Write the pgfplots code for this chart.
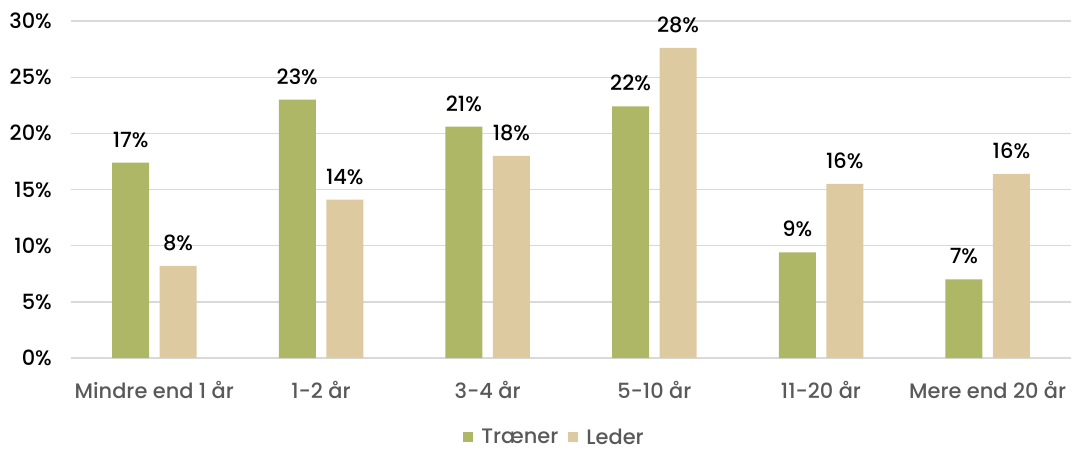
\documentclass[border=0pt]{standalone}
\usepackage{pgfplots}
\pgfplotsset{compat=1.18}
\usepackage{fontspec}
\setmainfont{Poppins Medium}

\definecolor{traener}{HTML}{AEB765}
\definecolor{leder}{HTML}{DDCAA1}
\definecolor{gridgray}{HTML}{D9D9D9}
\definecolor{labelgray}{HTML}{595959}

\begin{document}
\begin{tikzpicture}
\begin{axis}[
    name=ax,
    scale only axis,
    width=1000bp, height=337bp,
    ybar=10.5bp, bar width=37bp,
    xmin=-0.5, xmax=5.5,
    ymin=0, ymax=30,
    xtick=data,
    xticklabels={Mindre end 1 år, 1-2 år, 3-4 år, 5-10 år, 11-20 år, Mere end 20 år},
    ytick={0,5,...,30},
    yticklabel={\pgfmathprintnumber{\tick}\%},
    /pgf/number format/assume math mode=true,
    major tick length=0pt,
    axis line style={draw=none},
    ymajorgrids,
    grid style={gridgray, line width=1.3bp},
    font=\fontsize{21}{25}\selectfont,
    yticklabel style={inner sep=0pt, anchor=east, xshift=-19bp, text=black},
    xticklabel style={inner sep=0pt, anchor=north, yshift=-23bp, text=labelgray},
    nodes near coords={\pgfmathprintnumber[fixed,precision=0]{\pgfplotspointmeta}\%},
    every node near coord/.append style={anchor=south, inner sep=0pt, yshift=15bp, text=black},
    legend columns=2,
    legend style={draw=none, fill=none, at={(0.483,-0.235)}, anchor=center,
        text=labelgray, inner sep=1bp, nodes={inner sep=1bp},
        /tikz/every odd column/.append style={column sep=7bp},
        /tikz/every even column/.append style={column sep=9bp}},
    legend image code/.code={\fill[#1] (0bp,-5bp) rectangle (10bp,5bp);},
]
\addplot[fill=traener, draw=none] coordinates {
    (0,17.4) (1,23.0) (2,20.6) (3,22.4) (4,9.4) (5,7.0)};
\addplot[fill=leder, draw=none] coordinates {
    (0,8.2) (1,14.1) (2,18.0) (3,27.6) (4,15.5) (5,16.4)};
\legend{Træner, Leder}
\end{axis}
\pgfresetboundingbox
\path ([xshift=-71bp,yshift=-93bp]ax.south west) rectangle ([xshift=1bp,yshift=21bp]ax.north east);
\end{tikzpicture}
\end{document}
